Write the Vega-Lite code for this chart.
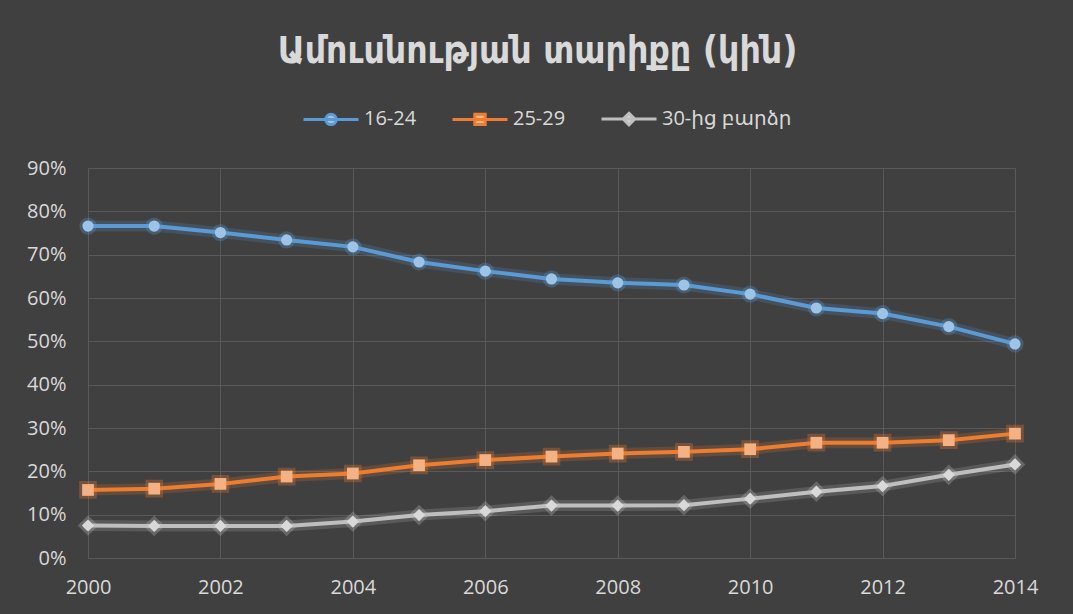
{
  "$schema": "https://vega.github.io/schema/vega-lite/v6.json",
  "width": 927,
  "height": 390,
  "autosize": {"type": "none"},
  "padding": {"left": 88, "top": 168, "right": 58, "bottom": 56},
  "background": "#404040",
  "title": {
    "text": "Ամուսնության տարիքը (կին)",
    "font": "DejaVu Sans Condensed",
    "fontSize": 37,
    "fontWeight": "bold",
    "color": "#d9d9d9",
    "anchor": "middle",
    "dx": -14,
    "offset": 19
  },
  "config": {
    "view": {"stroke": null},
    "axis": {
      "labelColor": "#d9d9d9",
      "labelFont": "Open Sans",
      "labelFontSize": 20,
      "gridColor": "#5a5a5a",
      "gridWidth": 1,
      "domain": false,
      "ticks": false,
      "title": null
    }
  },
  "data": {
    "values": [
      {"year": 2000, "series": "16-24", "value": 0.766},
      {"year": 2001, "series": "16-24", "value": 0.766},
      {"year": 2002, "series": "16-24", "value": 0.751},
      {"year": 2003, "series": "16-24", "value": 0.734},
      {"year": 2004, "series": "16-24", "value": 0.718},
      {"year": 2005, "series": "16-24", "value": 0.683},
      {"year": 2006, "series": "16-24", "value": 0.662},
      {"year": 2007, "series": "16-24", "value": 0.644},
      {"year": 2008, "series": "16-24", "value": 0.635},
      {"year": 2009, "series": "16-24", "value": 0.630},
      {"year": 2010, "series": "16-24", "value": 0.609},
      {"year": 2011, "series": "16-24", "value": 0.577},
      {"year": 2012, "series": "16-24", "value": 0.564},
      {"year": 2013, "series": "16-24", "value": 0.534},
      {"year": 2014, "series": "16-24", "value": 0.494},
      {"year": 2000, "series": "25-29", "value": 0.157},
      {"year": 2001, "series": "25-29", "value": 0.160},
      {"year": 2002, "series": "25-29", "value": 0.171},
      {"year": 2003, "series": "25-29", "value": 0.188},
      {"year": 2004, "series": "25-29", "value": 0.195},
      {"year": 2005, "series": "25-29", "value": 0.214},
      {"year": 2006, "series": "25-29", "value": 0.226},
      {"year": 2007, "series": "25-29", "value": 0.234},
      {"year": 2008, "series": "25-29", "value": 0.241},
      {"year": 2009, "series": "25-29", "value": 0.245},
      {"year": 2010, "series": "25-29", "value": 0.251},
      {"year": 2011, "series": "25-29", "value": 0.266},
      {"year": 2012, "series": "25-29", "value": 0.266},
      {"year": 2013, "series": "25-29", "value": 0.272},
      {"year": 2014, "series": "25-29", "value": 0.287},
      {"year": 2000, "series": "30-ից բարձր", "value": 0.075},
      {"year": 2001, "series": "30-ից բարձր", "value": 0.074},
      {"year": 2002, "series": "30-ից բարձր", "value": 0.074},
      {"year": 2003, "series": "30-ից բարձր", "value": 0.074},
      {"year": 2004, "series": "30-ից բարձր", "value": 0.084},
      {"year": 2005, "series": "30-ից բարձր", "value": 0.099},
      {"year": 2006, "series": "30-ից բարձր", "value": 0.108},
      {"year": 2007, "series": "30-ից բարձր", "value": 0.121},
      {"year": 2008, "series": "30-ից բարձր", "value": 0.121},
      {"year": 2009, "series": "30-ից բարձր", "value": 0.122},
      {"year": 2010, "series": "30-ից բարձր", "value": 0.137},
      {"year": 2011, "series": "30-ից բարձր", "value": 0.153},
      {"year": 2012, "series": "30-ից բարձր", "value": 0.166},
      {"year": 2013, "series": "30-ից բարձր", "value": 0.192},
      {"year": 2014, "series": "30-ից բարձր", "value": 0.216}
    ]
  },
  "encoding": {
    "x": {
      "field": "year",
      "type": "quantitative",
      "scale": {"domain": [2000, 2014], "nice": false, "zero": false},
      "axis": {
        "values": [2000, 2002, 2004, 2006, 2008, 2010, 2012, 2014],
        "format": "d",
        "labelPadding": 19,
        "labelFlush": false
      }
    },
    "y": {
      "field": "value",
      "type": "quantitative",
      "scale": {"domain": [0, 0.9], "nice": false},
      "axis": {
        "values": [0, 0.1, 0.2, 0.3, 0.4, 0.5, 0.6, 0.7, 0.8, 0.9],
        "format": ".0%",
        "labelPadding": 22
      }
    }
  },
  "layer": [
    {
      "mark": {"type": "line", "strokeWidth": 11, "opacity": 0.2, "strokeCap": "round"},
      "encoding": {
        "stroke": {"field": "series", "type": "nominal"}
      }
    },
    {
      "mark": {"type": "line", "strokeWidth": 4},
      "encoding": {
        "stroke": {
          "field": "series",
          "type": "nominal",
          "scale": {"range": ["#5b9bd5", "#ed7d31", "#bfbfbf"]},
          "legend": {
            "orient": "none",
            "legendX": 214,
            "legendY": -78,
            "direction": "horizontal",
            "title": null,
            "padding": 0,
            "symbolSize": 3025,
            "symbolStrokeWidth": 3,
            "symbolOpacity": 1,
            "labelFont": "Open Sans, DejaVu Sans",
            "labelFontSize": 20,
            "labelColor": "#d9d9d9",
            "labelOffset": 4,
            "columnPadding": 29,
            "encode": {
              "symbols": {
                "update": {
                  "fill": {"scale": "fill", "field": "value"},
                  "opacity": {"value": 1},
                  "shape": {"signal": "datum.value === '16-24' ? 'M-1,0L1,0M-0.19,0A0.19,0.19,0,1,1,0.19,0A0.19,0.19,0,1,1,-0.19,0Z' : datum.value === '25-29' ? 'M-1,0L1,0M-0.19,-0.19L0.19,-0.19L0.19,0.19L-0.19,0.19Z' : 'M-1,0L1,0M0,-0.21L0.21,0L0,0.21L-0.21,0Z'"}
                }
              }
            }
          }
        }
      }
    },
    {
      "mark": {"type": "point", "filled": false, "opacity": 0.3, "strokeWidth": 6},
      "encoding": {
        "stroke": {"field": "series", "type": "nominal"},
        "shape": {"field": "series", "type": "nominal", "legend": null},
        "size": {"field": "series", "type": "nominal", "legend": null}
      }
    },
    {
      "mark": {"type": "point", "filled": true, "opacity": 1},
      "encoding": {
        "fill": {"field": "series", "type": "nominal", "scale": {"range": ["#9dc3e6", "#f4b183", "#d9d9d9"]}, "legend": null},
        "shape": {"field": "series", "type": "nominal", "scale": {"range": ["circle", "square", "diamond"]}, "legend": null},
        "size": {"field": "series", "type": "nominal", "scale": {"range": [125, 150, 90]}, "legend": null}
      }
    }
  ]
}
